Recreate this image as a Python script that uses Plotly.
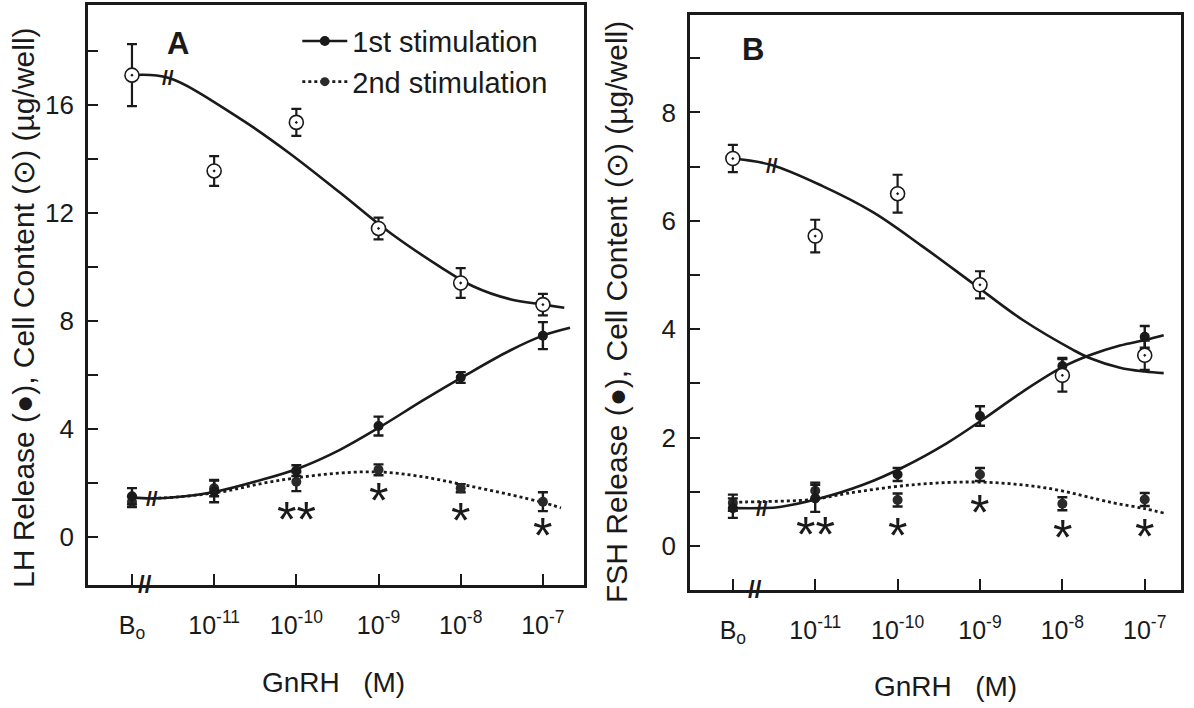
import plotly.graph_objects as go

# ---------------- data ----------------
positions = [0, 1, 2, 3, 4, 5]
tick_labels = ["B<sub>o</sub>", "10<sup>-11</sup>", "10<sup>-10</sup>", "10<sup>-9</sup>", "10<sup>-8</sup>", "10<sup>-7</sup>"]

# Panel A (LH)
content_A = [17.1, 13.55, 15.35, 11.42, 9.4, 8.6]
content_A_err = [1.15, 0.55, 0.5, 0.4, 0.55, 0.4]
release1_A = [1.5, 1.68, 2.45, 4.1, 5.9, 7.45]
release1_A_err = [0.3, 0.4, 0.2, 0.35, 0.2, 0.5]
release2_A = [1.3, 1.8, 2.04, 2.48, 1.8, 1.3]
release2_A_err = [0.2, 0.3, 0.35, 0.2, 0.15, 0.35]

content_curve_A_x = [0, 0.44, 1.31, 1.92, 2.53, 3.14, 3.75, 4.15, 4.6, 5.0, 5.26]
content_curve_A_y = [17.1, 17.0, 15.5, 14.2, 12.75, 11.26, 10.0, 9.28, 8.8, 8.6, 8.48]
release1_curve_A_x = [0, 0.24, 0.58, 1.03, 1.59, 2.04, 2.53, 3.02, 3.54, 4.03, 4.6, 5.0, 5.33]
release1_curve_A_y = [1.45, 1.42, 1.48, 1.68, 2.12, 2.55, 3.22, 4.07, 5.05, 5.93, 6.9, 7.45, 7.74]
release2_curve_A_x = [0.24, 0.58, 1.1, 1.59, 2.04, 2.53, 3.02, 3.5, 4.03, 4.6, 5.0, 5.22]
release2_curve_A_y = [1.42, 1.48, 1.67, 1.98, 2.2, 2.36, 2.4, 2.24, 1.93, 1.56, 1.27, 1.07]

stars_A_x = [2, 3, 4, 5]
stars_A_y = [1.11, 1.81, 1.07, 0.52]
stars_A_txt = ["**", "*", "*", "*"]

# Panel B (FSH)
content_B = [7.15, 5.72, 6.5, 4.82, 3.15, 3.52]
content_B_err = [0.25, 0.3, 0.35, 0.25, 0.3, 0.27]
release1_B = [0.7, 0.88, 1.32, 2.4, 3.32, 3.86]
release1_B_err = [0.18, 0.25, 0.12, 0.18, 0.15, 0.2]
release2_B = [0.8, 1.02, 0.85, 1.32, 0.78, 0.86]
release2_B_err = [0.15, 0.15, 0.12, 0.12, 0.12, 0.12]

content_curve_B_x = [0, 0.47, 1.09, 1.7, 2.31, 2.91, 3.52, 4.13, 4.33, 4.7, 5.0, 5.23]
content_curve_B_y = [7.15, 7.03, 6.64, 6.16, 5.52, 4.85, 4.17, 3.62, 3.47, 3.29, 3.22, 3.19]
release1_curve_B_x = [0, 0.35, 0.57, 1.06, 1.58, 2.06, 2.6, 3.03, 3.52, 4.0, 4.33, 4.7, 5.0, 5.23]
release1_curve_B_y = [0.7, 0.7, 0.72, 0.88, 1.13, 1.45, 1.9, 2.33, 2.85, 3.3, 3.52, 3.7, 3.8, 3.89]
release2_curve_B_x = [0, 0.35, 0.97, 1.38, 2.18, 3.0, 3.81, 4.61, 5.0, 5.23]
release2_curve_B_y = [0.81, 0.82, 0.86, 0.97, 1.13, 1.18, 1.07, 0.8, 0.69, 0.61]

stars_B_x = [1, 2, 3, 4, 5]
stars_B_y = [0.44, 0.42, 0.85, 0.39, 0.4]
stars_B_txt = ["**", "*", "*", "*", "*"]

# axis break positions (category units)
axis_break_A = 0.16
axis_break_B = 0.27
curve_breaks_A = [(0.44, 17.0), (0.24, 1.42)]
curve_breaks_B = [(0.47, 7.03), (0.35, 0.7)]

# ---------------- figure ----------------
INK = "#1a1a1a"
FONT = "Liberation Sans"
fig = go.Figure()


def add_panel(xa, ya, content, content_err, r1, r1_err, r2, r2_err,
              ccx, ccy, r1x, r1y, r2x, r2y):
    fig.add_trace(go.Scatter(x=ccx, y=ccy, mode="lines", line=dict(color=INK, width=2.6, shape="spline", smoothing=1),
                             xaxis=xa, yaxis=ya, showlegend=False, hoverinfo="skip"))
    fig.add_trace(go.Scatter(x=r1x, y=r1y, mode="lines", line=dict(color=INK, width=2.6, shape="spline", smoothing=1),
                             xaxis=xa, yaxis=ya, showlegend=False, hoverinfo="skip"))
    fig.add_trace(go.Scatter(x=r2x, y=r2y, mode="lines",
                             line=dict(color=INK, width=2.8, dash="dot", shape="spline", smoothing=1),
                             xaxis=xa, yaxis=ya, showlegend=False, hoverinfo="skip"))
    fig.add_trace(go.Scatter(x=positions, y=r2, mode="markers",
                             marker=dict(symbol="circle", size=10, color="#2a2a2a"),
                             error_y=dict(type="data", array=r2_err, color=INK, thickness=2.4, width=5),
                             xaxis=xa, yaxis=ya, showlegend=False))
    fig.add_trace(go.Scatter(x=positions, y=r1, mode="markers",
                             marker=dict(symbol="circle", size=10, color=INK),
                             error_y=dict(type="data", array=r1_err, color=INK, thickness=2.4, width=5),
                             xaxis=xa, yaxis=ya, showlegend=False))
    fig.add_trace(go.Scatter(x=positions, y=content, mode="markers",
                             marker=dict(symbol="circle-dot", size=14, color="white", line=dict(width=1.6, color=INK)),
                             error_y=dict(type="data", array=content_err, color=INK, thickness=2.2, width=5),
                             xaxis=xa, yaxis=ya, showlegend=False))


add_panel("x", "y", content_A, content_A_err, release1_A, release1_A_err, release2_A, release2_A_err,
          content_curve_A_x, content_curve_A_y, release1_curve_A_x, release1_curve_A_y,
          release2_curve_A_x, release2_curve_A_y)
add_panel("x2", "y2", content_B, content_B_err, release1_B, release1_B_err, release2_B, release2_B_err,
          content_curve_B_x, content_curve_B_y, release1_curve_B_x, release1_curve_B_y,
          release2_curve_B_x, release2_curve_B_y)

# legend entries
fig.add_trace(go.Scatter(x=[None], y=[None], mode="lines+markers", name="1st stimulation",
                         line=dict(color=INK, width=2.6), marker=dict(size=10, color=INK)))
fig.add_trace(go.Scatter(x=[None], y=[None], mode="lines+markers", name="2nd stimulation",
                         line=dict(color=INK, width=2.8, dash="dot"), marker=dict(size=9, color="#2a2a2a")))

xaxis_common = dict(tickmode="array", tickvals=positions, ticktext=tick_labels,
                    ticks="inside", ticklen=11, tickwidth=2, tickcolor=INK,
                    showline=True, linewidth=2.8, linecolor=INK, mirror=True,
                    showgrid=False, zeroline=False, ticklabelstandoff=16,
                    tickfont=dict(family=FONT, size=25, color=INK))
yaxis_common = dict(ticks="inside", ticklen=10, tickwidth=2, tickcolor=INK,
                    showline=True, linewidth=2.8, linecolor=INK, mirror=True,
                    showgrid=False, zeroline=False, tickmode="array", ticklabelstandoff=6,
                    tickfont=dict(family=FONT, size=26, color=INK))

yA_vals = [0, 2, 4, 6, 8, 10, 12, 14, 16, 18]
yA_text = ["0", "", "4", "", "8", "", "12", "", "16", ""]
yB_vals = [0, 1, 2, 3, 4, 5, 6, 7, 8, 9]
yB_text = ["0", "", "2", "", "4", "", "6", "", "8", ""]

fig.update_layout(
    width=1194, height=708,
    margin=dict(l=0, r=0, t=0, b=0),
    paper_bgcolor="white", plot_bgcolor="white",
    font=dict(family=FONT, color=INK),
    xaxis=dict(domain=[0.0737, 0.4891], range=[-0.535, 5.50], anchor="y", **xaxis_common),
    yaxis=dict(domain=[0.174, 0.993], range=[-1.78, 19.7], anchor="x",
               tickvals=yA_vals, ticktext=yA_text, **yaxis_common),
    xaxis2=dict(domain=[0.5779, 0.9891], range=[-0.52, 5.44], anchor="y2", **xaxis_common),
    yaxis2=dict(domain=[0.1667, 0.979], range=[-0.81, 9.8], anchor="x2",
                tickvals=yB_vals, ticktext=yB_text, **yaxis_common),
    legend=dict(x=0.249, y=0.978, xanchor="left", yanchor="top", bgcolor="rgba(0,0,0,0)",
                font=dict(family=FONT, size=29, color=INK), itemwidth=45, tracegroupgap=0),
    showlegend=True,
)

ann = []
ann.append(dict(text="LH Release (●), Cell Content (⊙) (µg/well)", xref="paper", yref="paper",
                x=23 / 1194, y=1 - 308 / 708, xanchor="center", yanchor="middle", textangle=-90,
                showarrow=False, font=dict(family=FONT, size=30, color=INK)))
ann.append(dict(text="FSH Release (●), Cell Content (⊙) (µg/well)", xref="paper", yref="paper",
                x=617 / 1194, y=1 - 312 / 708, xanchor="center", yanchor="middle", textangle=-90,
                showarrow=False, font=dict(family=FONT, size=30, color=INK)))
ann.append(dict(text="GnRH   (M)", xref="paper", yref="paper", x=333 / 1194, y=1 - 682 / 708,
                xanchor="center", yanchor="middle", showarrow=False,
                font=dict(family=FONT, size=28, color=INK)))
ann.append(dict(text="GnRH   (M)", xref="paper", yref="paper", x=946 / 1194, y=1 - 686 / 708,
                xanchor="center", yanchor="middle", showarrow=False,
                font=dict(family=FONT, size=28, color=INK)))
ann.append(dict(text="<b>A</b>", xref="paper", yref="paper", x=178 / 1194, y=1 - 43 / 708,
                xanchor="center", yanchor="middle", showarrow=False,
                font=dict(family=FONT, size=31, color=INK)))
ann.append(dict(text="<b>B</b>", xref="paper", yref="paper", x=753 / 1194, y=1 - 50 / 708,
                xanchor="center", yanchor="middle", showarrow=False,
                font=dict(family=FONT, size=31, color=INK)))
for sx, sy, st in zip(stars_A_x, stars_A_y, stars_A_txt):
    ann.append(dict(text=st, xref="x", yref="y", x=sx, y=sy, xanchor="center", yanchor="middle",
                    yshift=-13, showarrow=False, font=dict(family=FONT, size=50, color=INK)))
for sx, sy, st in zip(stars_B_x, stars_B_y, stars_B_txt):
    ann.append(dict(text=st, xref="x2", yref="y2", x=sx, y=sy, xanchor="center", yanchor="middle",
                    yshift=-13, showarrow=False, font=dict(family=FONT, size=50, color=INK)))
for xr, yr, bx in [("x", "y domain", axis_break_A), ("x2", "y2 domain", axis_break_B)]:
    ann.append(dict(text="<b>//</b>", xref=xr, yref=yr, x=bx, y=0, xanchor="center", yanchor="middle",
                    showarrow=False, font=dict(family=FONT, size=24, color=INK)))
for bx, by in curve_breaks_A:
    ann.append(dict(text="<b>//</b>", xref="x", yref="y", x=bx, y=by, xanchor="center", yanchor="middle",
                    showarrow=False, font=dict(family=FONT, size=21, color=INK)))
for bx, by in curve_breaks_B:
    ann.append(dict(text="<b>//</b>", xref="x2", yref="y2", x=bx, y=by, xanchor="center", yanchor="middle",
                    showarrow=False, font=dict(family=FONT, size=21, color=INK)))

fig.update_layout(annotations=ann)

fig.write_html("out.html")
